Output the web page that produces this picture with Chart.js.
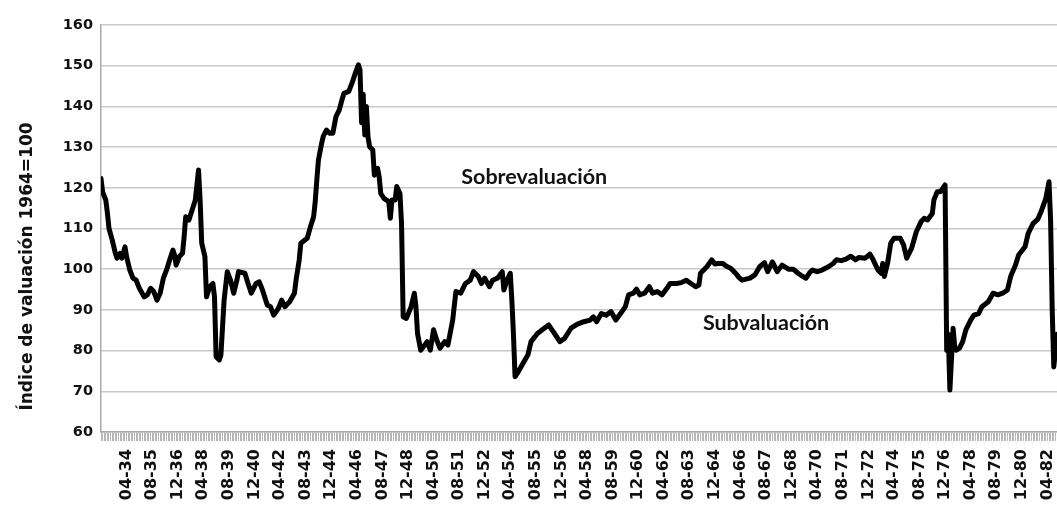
<!DOCTYPE html>
<html><head><meta charset="utf-8">
<script src="https://cdn.jsdelivr.net/npm/chart.js@4/dist/chart.umd.min.js"></script>
<style>html,body{margin:0;padding:0;background:#fff;overflow:hidden}</style>
</head><body>
<canvas id="c" width="1057" height="505" style="display:block;width:1057px;height:505px"></canvas>
<script>
// month index (0 = Dec 1932), one entry per vertex
const months = [0,1,3,4,5,7,9,10,12,13,15,16,18,20,22,24,27,29,31,33,35,37,39,41,43,45,46,47,49,51,52,53,55,56,58,59,61,62,63,65,66,68,70,71,72,74,75,77,79,81,83,85,86,90,92,94,97,99,101,104,106,108,111,113,115,118,121,122,124,125,129,131,133,134,135,136,138,139,141,143,145,147,149,151,152,155,157,159,161,162,163,164,165,166,167,168,170,171,173,174,175,177,180,181,182,184,185,187,188,189,191,194,196,197,198,200,204,206,208,210,212,215,217,220,222,225,228,231,233,236,238,240,243,245,248,251,252,254,256,257,258,259,261,264,267,269,273,276,280,283,287,290,294,298,302,306,308,310,313,316,319,322,325,328,330,333,335,337,340,343,345,348,351,354,356,360,363,366,369,372,374,375,379,382,384,386,389,391,394,397,399,401,406,409,412,415,417,420,423,426,430,433,436,439,441,443,445,448,451,455,458,460,463,466,469,472,474,478,481,483,486,488,489,490,492,494,496,500,502,504,507,510,513,515,517,520,521,523,525,528,529,530,531,532,533,534,535,537,539,541,544,546,549,551,555,558,561,564,567,569,572,574,578,580,583,586,588,591,593,594,595,596,597,598];
const values = [122.3,119.0,117.0,113.8,110.0,107.2,103.9,102.7,103.9,102.7,105.5,103.1,99.8,97.8,97.3,95.3,93.2,93.7,95.3,94.5,92.4,94.1,97.8,99.8,102.3,104.7,103.5,101.0,103.1,103.9,108.0,112.9,112.1,113.3,115.8,117.0,124.4,117.0,106.4,103.1,93.2,95.7,96.5,93.2,78.5,77.7,78.9,92.4,99.4,97.3,94.1,97.3,99.4,99.0,96.5,94.1,96.5,96.9,94.9,91.2,90.8,88.7,90.4,92.4,90.8,92.0,94.1,97.3,102.3,106.4,107.6,110.4,112.9,116.6,121.9,126.8,130.9,132.6,134.2,133.4,133.4,137.5,139.1,142.0,143.2,143.7,145.7,148.1,150.2,149.0,136.0,143.0,133.0,140.0,132.6,130.1,129.3,123.1,124.8,122.7,118.6,117.4,116.6,112.5,117.0,117.0,120.3,118.6,111.2,88.3,87.9,90.8,94.1,90.8,84.2,80.1,82.2,80.1,85.1,82.6,80.6,82.2,81.4,87.5,94.5,94.1,96.5,97.3,99.4,98.2,96.5,97.8,95.7,97.3,97.8,99.4,94.9,97.3,99.0,92.4,84.0,73.6,74.8,76.9,78.9,82.2,84.2,85.1,86.3,84.6,82.2,83.0,85.5,86.5,87.1,87.5,88.3,87.1,89.1,88.7,89.6,87.5,89.1,90.8,93.7,94.1,95.1,93.7,94.1,95.7,94.1,94.5,93.7,95.3,96.5,96.5,96.7,97.3,96.5,95.7,96.1,99.0,100.6,102.3,101.3,101.4,101.4,100.8,100.2,99.0,98.0,97.3,97.8,98.6,100.6,101.6,99.4,101.8,99.4,101.0,100.0,100.0,99.0,98.2,97.8,99.0,99.8,99.4,99.8,100.6,101.4,102.3,102.1,102.5,103.2,102.3,102.9,102.7,103.7,102.3,99.8,99.0,101.4,98.2,101.4,106.4,107.6,107.6,106.0,102.7,105.1,109.2,111.7,112.5,112.1,113.7,117.0,119.0,119.0,120.7,80.0,84.0,70.3,78.0,85.5,81.0,80.1,80.6,82.2,85.1,87.5,88.7,89.1,90.8,92.0,94.1,93.7,94.1,94.9,98.2,101.0,103.5,105.5,108.8,111.2,112.3,114.1,117.4,121.5,112.0,90.0,76.0,80.0,84.0];
const tickLabels = ['04-34','08-35','12-36','04-38','08-39','12-40','04-42','08-43','12-44','04-46','08-47','12-48','04-50','08-51','12-52','04-54','08-55','12-56','04-58','08-59','12-60','04-62','08-63','12-64','04-66','08-67','12-68','04-70','08-71','12-72','04-74','08-75','12-76','04-78','08-79','12-80','04-82'];
const firstLabelMonth = 16;
const labelEvery = 16;
const yTitle = 'Índice de valuación 1964=100';
const notes = [
  {text: 'Sobrevaluación', month: 271, value: 122.7},
  {text: 'Subvaluación', month: 416, value: 86.8}
];

const textPlugin = {
  id: 'texts',
  afterDraw(chart) {
    const {ctx, scales: {x, y}} = chart;
    ctx.save();
    ctx.fillStyle = '#111';
    ctx.textAlign = 'center';
    ctx.textBaseline = 'middle';
    ctx.font = 'bold 21.5px Lato';
    notes.forEach(n => ctx.fillText(n.text, x.getPixelForValue(n.month), y.getPixelForValue(n.value)));
    ctx.translate(28, chart.height / 2 + 14);
    ctx.rotate(-Math.PI / 2);
    ctx.font = 'bold 17px "DejaVu Sans"';
    ctx.fillText(yTitle, 0, 0);
    ctx.restore();
  }
};

new Chart(document.getElementById('c'), {
  type: 'line',
  data: {
    datasets: [{
      data: months.map((m, i) => ({x: m, y: values[i]})),
      borderColor: '#000',
      borderWidth: 5,
      pointRadius: 0,
      tension: 0,
      fill: false,
      borderJoinStyle: 'round',
      borderCapStyle: 'round'
    }]
  },
  options: {
    responsive: false,
    animation: false,
    devicePixelRatio: 1,
    layout: {padding: {top: 25, right: 0, left: 0, bottom: 0}},
    plugins: {legend: {display: false}, tooltip: {enabled: false}},
    scales: {
      x: {
        type: 'linear', min: 0, max: 598,
        grid: {display: true, drawOnChartArea: false, drawTicks: true, tickLength: 9, color: '#b8b8b8', lineWidth: 1},
        border: {display: true, color: '#a8a8a8', width: 1.5},
        ticks: {
          stepSize: 1, autoSkip: false, minRotation: 90, maxRotation: 90, padding: 8,
          color: '#111', font: {family: '"DejaVu Sans"', size: 16, weight: 'bold'},
          callback: (v) => {
            const k = (v - firstLabelMonth) / labelEvery;
            return (Number.isInteger(k) && k >= 0 && k < tickLabels.length) ? tickLabels[k] : '';
          }
        },
        afterFit: (s) => { s.height = 73; s.paddingLeft = 0; s.paddingRight = 0; }
      },
      y: {
        min: 60, max: 160,
        ticks: {stepSize: 10, padding: 8, color: '#111', font: {family: '"DejaVu Sans"', size: 14.5, weight: 'bold'}},
        grid: {color: '#c8c8c8', lineWidth: 1.5, drawTicks: false},
        border: {display: true, color: '#a8a8a8', width: 1.5},
        afterFit: (s) => { s.width = 101; }
      }
    }
  },
  plugins: [textPlugin]
});
</script>
</body></html>
